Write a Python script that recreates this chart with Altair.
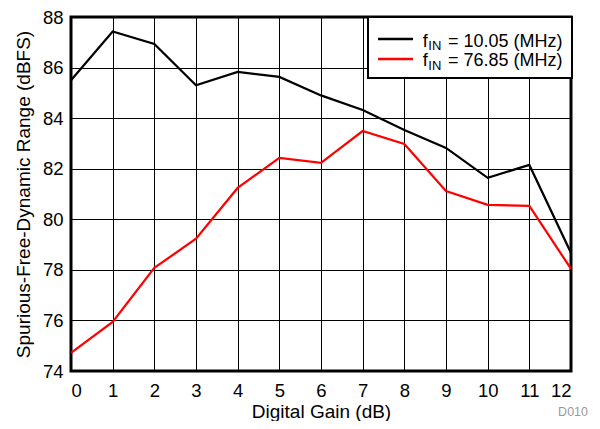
import altair as alt
import pandas as pd

gain = list(range(13))
sfdr_10 = [85.5, 87.43, 86.93, 85.3, 85.83, 85.63, 84.9, 84.32, 83.53, 82.82, 81.64, 82.15, 78.67]
sfdr_76 = [74.72, 75.94, 78.08, 79.23, 81.24, 82.43, 82.23, 83.49, 82.98, 81.12, 80.57, 80.53, 78.04]
series = ["fIN = 10.05 (MHz)", "fIN = 76.85 (MHz)"]
colors = ["#000000", "#ff0000"]
x_ticks = list(range(13))
y_ticks = [74, 76, 78, 80, 82, 84, 86, 88]

rows = []
for g, v in zip(gain, sfdr_10):
    rows.append({"gain": g, "sfdr": v, "series": series[0]})
for g, v in zip(gain, sfdr_76):
    rows.append({"gain": g, "sfdr": v, "series": series[1]})
df = pd.DataFrame(rows)

FONT = "Liberation Sans"
one = alt.Data(values=[{"a": 1}])

lines = alt.Chart(df).mark_line(strokeWidth=2.2, clip=True).encode(
    x=alt.X("gain:Q", scale=alt.Scale(domain=[0, 12], nice=False),
            axis=alt.Axis(values=x_ticks, title="Digital Gain (dB)", format="d")),
    y=alt.Y("sfdr:Q", scale=alt.Scale(domain=[74, 88], nice=False, zero=False),
            axis=alt.Axis(values=y_ticks, title="Spurious-Free-Dynamic Range (dBFS)", format="d")),
    color=alt.Color("series:N", scale=alt.Scale(domain=series, range=colors), legend=None),
)

legend_box = alt.Chart(one).mark_rect(fill="white", stroke="black", strokeWidth=2).encode(
    x=alt.value(297), x2=alt.value(501), y=alt.value(0), y2=alt.value(61)
)

sw1 = alt.Chart(one).mark_rule(color=colors[0], strokeWidth=2.5).encode(
    x=alt.value(307), x2=alt.value(342), y=alt.value(22)
)
sw2 = alt.Chart(one).mark_rule(color=colors[1], strokeWidth=2.5).encode(
    x=alt.value(307), x2=alt.value(342), y=alt.value(42)
)

def txt(s, x, y, size):
    return alt.Chart(one).mark_text(align="left", baseline="alphabetic", font=FONT,
                                    fontSize=size, color="black").encode(
        x=alt.value(x), y=alt.value(y), text=alt.value(s))

leg_texts = [
    txt("f", 351.7, 29.7, 18), txt("IN", 357.3, 33.2, 13), txt("= 10.05 (MHz)", 377, 29.7, 18),
    txt("f", 351.7, 49, 18), txt("IN", 357.3, 52.5, 13), txt("= 76.85 (MHz)", 377, 49, 18),
]

code = alt.Chart(one).mark_text(align="right", baseline="alphabetic", font=FONT,
                                fontSize=12.5, color="#999999").encode(
    x=alt.value(517), y=alt.value(399), text=alt.value("D010"))

top_rule = alt.Chart(one).mark_rule(color="#333333", strokeWidth=1).encode(
    x=alt.value(-71), x2=alt.value(529), y=alt.value(-15.5)
)

chart = alt.layer(lines, legend_box, sw1, sw2, *leg_texts, code, top_rule).properties(
    width=500, height=354,
    autosize=alt.AutoSizeParams(type="none"),
    padding={"left": 63, "top": 9, "right": 21, "bottom": 50},
).configure_view(
    stroke="black", strokeWidth=3
).configure_axis(
    domain=False, ticks=False, grid=True, gridColor="#000000", gridWidth=1, gridOpacity=1,
    labelFont=FONT, labelFontSize=18.5, labelColor="black", titleFont=FONT, titleFontSize=19,
    titleFontWeight="normal", titleColor="black", labelPadding=8,
).configure_axisX(
    titlePadding=3, labelPadding=10
).configure_axisY(
    titlePadding=9
)

chart.save("out.html", embed_options={"renderer": "svg", "actions": False})
